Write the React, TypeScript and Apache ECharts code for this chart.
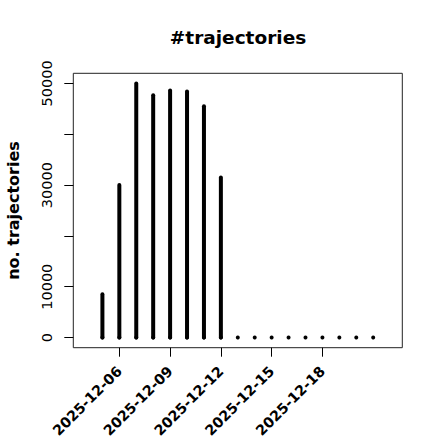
import React, { useEffect, useRef } from "react";
import * as echarts from "echarts";

const dates = [
  "2025-12-05", "2025-12-06", "2025-12-07", "2025-12-08", "2025-12-09",
  "2025-12-10", "2025-12-11", "2025-12-12", "2025-12-13", "2025-12-14",
  "2025-12-15", "2025-12-16", "2025-12-17", "2025-12-18", "2025-12-19",
  "2025-12-20", "2025-12-21",
];
const counts = [8500, 30000, 50000, 47700, 48600, 48400, 45500, 31500, 0, 0, 0, 0, 0, 0, 0, 0, 0];
const xTickLabels = ["2025-12-06", "2025-12-09", "2025-12-12", "2025-12-15", "2025-12-18"];
const yTicks = [0, 10000, 20000, 30000, 40000, 50000];
const yTickLabels = [0, 10000, 30000, 50000];

const FONT = "DejaVu Sans";

export default function App() {
  const ref = useRef<HTMLDivElement>(null);
  useEffect(() => {
    if (!ref.current) return;
    const chart = echarts.init(ref.current, null, { renderer: "svg" });
    const data = counts.map((v, i) => [i, v]);
    const xTickIdx = xTickLabels.map((l) => dates.indexOf(l));
    chart.setOption({
      animation: false,
      backgroundColor: "#ffffff",
      textStyle: { fontFamily: FONT },
      graphic: [
        {
          type: "text",
          x: 238,
          y: 37.5,
          style: {
            text: "#trajectories",
            font: `bold 18.5px "${FONT}"`,
            fill: "#000",
            align: "center",
            verticalAlign: "middle",
          },
        },
      ],
      grid: {
        left: 73.3,
        top: 73.3,
        right: 37.7,
        bottom: 92.3,
        show: true,
        borderColor: "#222",
        borderWidth: 1,
        backgroundColor: "transparent",
        containLabel: false,
        outerBoundsMode: "none",
      },
      xAxis: {
        type: "value",
        min: -1.72,
        max: 17.72,
        axisLine: { show: false, onZero: false },
        splitLine: { show: false },
        axisTick: {
          show: true,
          length: 9,
          inside: false,
          customValues: xTickIdx,
          lineStyle: { color: "#000", width: 1 },
        },
        axisLabel: {
          show: true,
          customValues: xTickIdx,
          rotate: 45,
          margin: 21,
          fontFamily: FONT,
          fontWeight: "bold",
          fontSize: 14.2,
          color: "#000",
          formatter: (v: number) => dates[Math.round(v)] ?? "",
        },
      },
      yAxis: {
        type: "value",
        min: -2000,
        max: 52000,
        name: "no. trajectories",
        nameLocation: "middle",
        nameGap: 52,
        nameRotate: 90,
        nameTextStyle: { fontFamily: FONT, fontWeight: "bold", fontSize: 16, color: "#000" },
        axisLine: { show: false, onZero: false },
        splitLine: { show: false },
        axisTick: {
          show: true,
          length: 9,
          inside: false,
          customValues: yTicks,
          lineStyle: { color: "#000", width: 1 },
        },
        axisLabel: {
          show: true,
          customValues: yTickLabels,
          rotate: 90,
          margin: 19,
          fontFamily: FONT,
          fontSize: 14.5,
          color: "#000",
          formatter: (v: number) => String(v),
        },
      },
      series: [
        {
          type: "custom",
          data,
          renderItem: (params: any, api: any) => {
            const x = api.value(0);
            const y = api.value(1);
            const p0 = api.coord([x, 0]);
            const p1 = api.coord([x, y]);
            return {
              type: "group",
              children: [
                {
                  type: "line",
                  shape: { x1: p0[0], y1: p0[1], x2: p1[0], y2: p1[1] },
                  style: { stroke: "#000", lineWidth: 4, lineCap: "round" },
                },
                {
                  type: "circle",
                  shape: { cx: p0[0], cy: p0[1], r: 2 },
                  style: { fill: "#000" },
                },
              ],
            };
          },
        },
      ],
    });
    return () => chart.dispose();
  }, []);
  return (
    <div
      ref={ref}
      style={{ position: "fixed", left: 0, top: 0, width: 440, height: 440, background: "#fff" }}
    />
  );
}
